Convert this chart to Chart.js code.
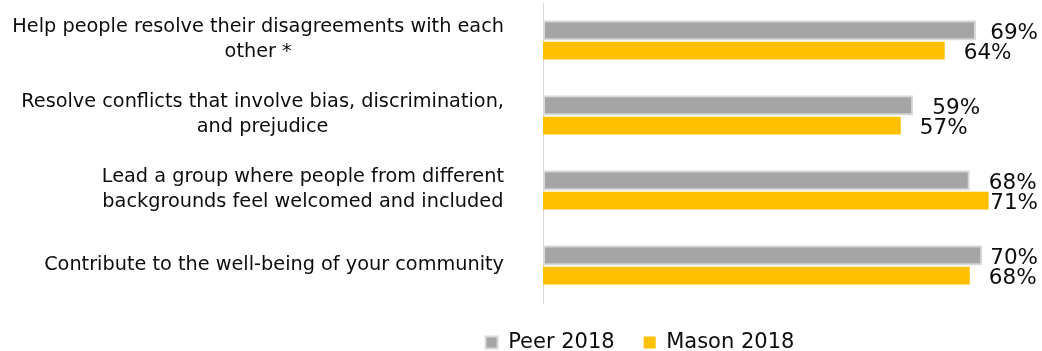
<!DOCTYPE html>
<html><head><meta charset="utf-8">
<script src="https://cdn.jsdelivr.net/npm/chart.js@4/dist/chart.umd.min.js"></script>
<style>html,body{margin:0;padding:0;background:#fff;} #wrap{width:1042px;height:351px;position:relative;}</style>
</head><body><div id="wrap"><canvas id="c"></canvas></div>
<script>
const categories = [
  ["Help people resolve their disagreements with each", "other *"],
  ["Resolve conflicts that involve bias, discrimination,", "and prejudice"],
  ["Lead a group where people from different", "backgrounds feel welcomed and included"],
  ["Contribute to the well-being of your community"]
];
const seriesNames = ["Peer 2018", "Mason 2018"];
const peer2018 = [69, 59, 68, 70];
const mason2018 = [64, 57, 71, 68];
const axisMax = 79.5;

const FONT = "'DejaVu Sans', sans-serif";
const TEXT = '#0d0d0d';

const catLabelPlugin = {
  id: 'catLabels',
  afterDraw(chart) {
    const ys = chart.scales.y, ctx = chart.ctx;
    ctx.save();
    ctx.font = '19.3px ' + FONT;
    ctx.fillStyle = TEXT;
    ctx.textAlign = 'center';
    ctx.textBaseline = 'middle';
    const right = 504, lh = 25;
    categories.forEach((lines, i) => {
      const y = ys.getPixelForTick(i);
      const maxW = Math.max(...lines.map(l => ctx.measureText(l).width));
      const cx = right - maxW / 2;
      lines.forEach((l, k) => {
        ctx.fillText(l, cx, y - (lines.length - 1) * lh / 2 + k * lh - 1);
      });
    });
    ctx.restore();
  }
};

const valueLabelPlugin = {
  id: 'valueLabels',
  afterDatasetsDraw(chart) {
    const ctx = chart.ctx;
    ctx.save();
    ctx.font = '21.5px ' + FONT;
    ctx.fillStyle = TEXT;
    ctx.textAlign = 'left';
    ctx.textBaseline = 'middle';
    chart.data.datasets.forEach((ds, di) => {
      chart.getDatasetMeta(di).data.forEach((el, i) => {
        const t = ds.data[i] + '%';
        const w = ctx.measureText(t).width;
        const x = Math.min(el.x + 19, chart.width - 4 - w);
        ctx.fillText(t, x, el.y + 3);
      });
    });
    ctx.restore();
  }
};

const legendShift = {
  id: 'legendShift',
  afterLayout(chart) {
    const l = chart.legend;
    const shift = 640 - (l.left + l.right) / 2;
    l.left += shift; l.right += shift;
  }
};

new Chart(document.getElementById('c'), {
  type: 'bar',
  data: {
    labels: categories,
    datasets: [
      { label: seriesNames[0], data: peer2018, backgroundColor: '#a5a5a5', borderColor: '#d9d9d9', borderWidth: 2, borderSkipped: false, barPercentage: 1.0, categoryPercentage: 0.54 },
      { label: seriesNames[1], data: mason2018, backgroundColor: '#ffc000', borderWidth: 0, barPercentage: 0.87, categoryPercentage: 0.54 }
    ]
  },
  options: {
    indexAxis: 'y',
    responsive: true,
    maintainAspectRatio: false,
    animation: false,
    layout: { padding: { top: 3, left: 0, right: 0, bottom: 0 } },
    scales: {
      x: { display: false, min: 0, max: axisMax },
      y: {
        grid: { display: false },
        border: { display: true, color: '#d9d9d9', width: 1 },
        ticks: { display: false },
        afterFit(s) { s.width = 543; }
      }
    },
    plugins: {
      legend: {
        position: 'bottom',
        maxHeight: 48,
        labels: { font: { family: FONT, size: 21 }, color: TEXT, boxWidth: 12, boxHeight: 12, padding: 29 }
      },
      tooltip: { enabled: false }
    }
  },
  plugins: [catLabelPlugin, valueLabelPlugin, legendShift]
});
</script>
</body></html>
